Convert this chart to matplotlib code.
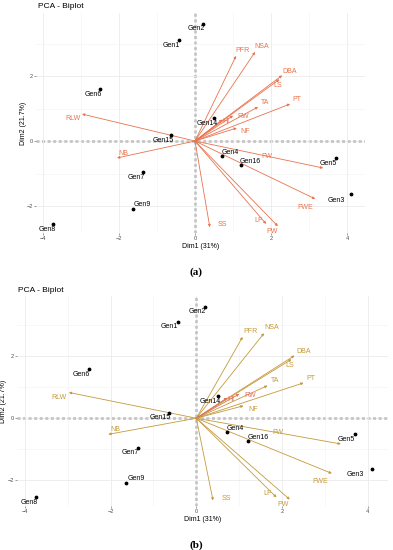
import matplotlib
matplotlib.use("Agg")
import matplotlib.pyplot as plt

plt.rcParams['font.family'] = ['Liberation Sans', 'DejaVu Sans']

# genotypes (individuals) on Dim1 / Dim2
gen_names = ['Gen1', 'Gen2', 'Gen3', 'Gen4', 'Gen5', 'Gen6', 'Gen7', 'Gen8',
             'Gen9', 'Gen14', 'Gen15', 'Gen16']
gen_x = [-0.42, 0.21, 4.10, 0.71, 3.71, -2.50, -1.37, -3.74, -1.63, 0.50, -0.63, 1.21]
gen_y = [3.10, 3.60, -1.63, -0.46, -0.52, 1.60, -0.95, -2.55, -2.09, 0.71, 0.18, -0.74]

# traits (variables) arrow ends
var_names = ['RLW', 'NB', 'PFR', 'NSA', 'DBA', 'LS', 'TA', 'PT', 'RW', 'HI',
             'NF', 'FW', 'FWE', 'LF', 'PW', 'SS']
var_x = [-2.97, -2.05, 1.08, 1.58, 2.29, 2.22, 1.66, 2.50, 1.00, 0.72,
         1.10, 3.37, 3.16, 1.87, 2.18, 0.39]
var_y = [0.83, -0.52, 2.62, 2.74, 2.02, 1.90, 1.05, 1.14, 0.78, 0.66,
         0.40, -0.83, -1.78, -2.55, -2.62, -2.65]

# label nudges (repel-like), data units
gen_off = {'Gen1': (-0.21, -0.15), 'Gen2': (-0.18, -0.15), 'Gen3': (-0.39, -0.19),
           'Gen4': (0.21, 0.12), 'Gen5': (-0.21, -0.16), 'Gen6': (-0.18, -0.18),
           'Gen7': (-0.18, -0.16), 'Gen8': (-0.15, -0.16), 'Gen9': (0.24, 0.15),
           'Gen14': (-0.18, -0.16), 'Gen15': (-0.21, -0.15), 'Gen16': (0.24, 0.12)}
var_off = {'RLW': (-0.24, -0.15), 'NB': (0.16, 0.15), 'PFR': (0.18, 0.18),
           'NSA': (0.18, 0.18), 'DBA': (0.21, 0.12), 'LS': (-0.04, -0.2),
           'TA': (0.18, 0.15), 'PT': (0.18, 0.15), 'RW': (0.26, -0.04),
           'HI': (0.08, -0.06), 'NF': (0.22, -0.12), 'FW': (-1.47, 0.36),
           'FWE': (-0.27, -0.25), 'LF': (-0.21, 0.12), 'PW': (-0.15, -0.15),
           'SS': (0.32, 0.07)}


def biplot(ax, col, hot_col):
    ax.set_xlim(-4.18, 4.47)
    ax.set_ylim(-2.83, 3.94)
    ax.set_xticks([-4, -2, 0, 2, 4])
    ax.set_yticks([-2, 0, 2])
    ax.set_xticks([-3, -1, 1, 3], minor=True)
    ax.set_yticks([-1, 1, 3], minor=True)
    ax.grid(True, which='major', color='#EBEBEB', lw=0.6, zorder=0)
    ax.grid(True, which='minor', color='#F2F2F2', lw=0.4, zorder=0)
    for s in ax.spines.values():
        s.set_visible(False)
    ax.tick_params(which='major', labelsize=4, colors='#4D4D4D', length=1.5, width=0.4, pad=1)
    ax.tick_params(which='minor', length=0)
    ax.axhline(0, color='black', ls=(0, (2.2, 1.8)), lw=1.0, zorder=1)
    ax.axvline(0, color='black', ls=(0, (2.2, 1.8)), lw=1.0, zorder=1)

    for n, x, y in zip(var_names, var_x, var_y):
        c = hot_col if n in ('RW', 'HI') else col
        ax.annotate('', xy=(x, y), xytext=(0, 0),
                    arrowprops=dict(arrowstyle='-|>', color=c, lw=0.6,
                                    mutation_scale=3.5, shrinkA=0, shrinkB=0),
                    zorder=3)
        dx, dy = var_off[n]
        ax.text(x + dx, y + dy, n, color=c, fontsize=5, ha='center', va='center', zorder=4)

    ax.scatter(gen_x, gen_y, s=3, color='black', zorder=5)
    for n, x, y in zip(gen_names, gen_x, gen_y):
        dx, dy = gen_off[n]
        ax.text(x + dx, y + dy, n, color='black', fontsize=5, ha='center', va='center', zorder=6)

    ax.set_xlabel('Dim1 (31%)', fontsize=5, labelpad=1)
    ax.set_ylabel('Dim2 (21.7%)', fontsize=5)


fig = plt.figure(figsize=(3.93, 5.5), dpi=100)

ax1 = fig.add_axes([36 / 393, 1 - 233 / 550, 329 / 393, 220 / 550])
biplot(ax1, '#E8734F', '#E8734F')
ax1.yaxis.set_label_coords(-0.027, 0.5)
fig.text(38 / 393, 1 - 6 / 550, 'PCA - Biplot', fontsize=6, va='center', ha='left')
fig.text(196 / 393, 1 - 272 / 550, '(a)', fontsize=8, family='Liberation Serif',
         fontweight='bold', ha='center', va='center')

ax2 = fig.add_axes([17 / 393, 1 - 506 / 550, 371 / 393, 210 / 550])
biplot(ax2, '#C49A3C', '#E0705A')
ax2.yaxis.set_label_coords(-0.026, 0.5)
fig.text(18 / 393, 1 - 290 / 550, 'PCA - Biplot', fontsize=6, va='center', ha='left')
fig.text(196 / 393, 1 - 545 / 550, '(b)', fontsize=8, family='Liberation Serif',
         fontweight='bold', ha='center', va='center')

fig.savefig('out.png', dpi=100)
